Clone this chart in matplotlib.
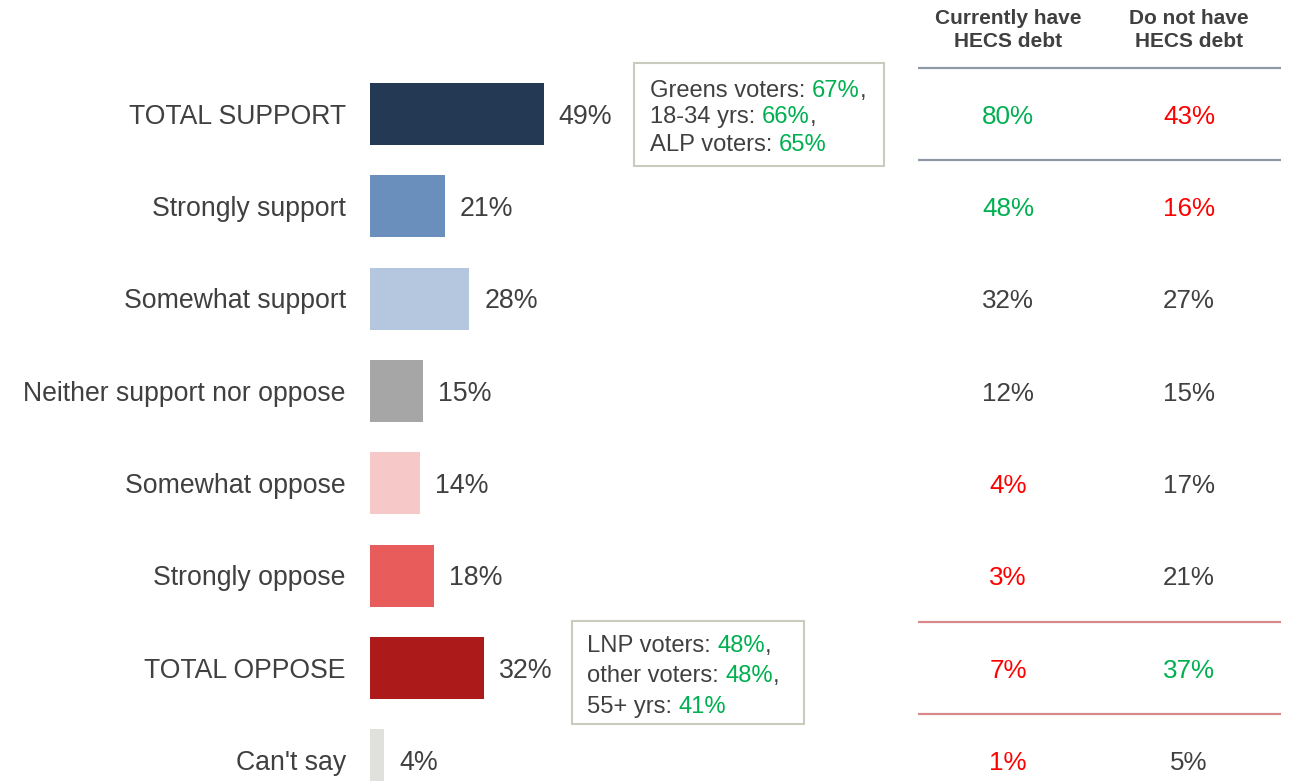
import matplotlib.pyplot as plt
import matplotlib.patches as mpatches
from matplotlib.transforms import offset_copy
import numpy as np

plt.rcParams["font.family"] = ["Liberation Sans", "DejaVu Sans"]

# --- Données ---
categories = [
    "TOTAL SUPPORT",
    "Strongly support",
    "Somewhat support",
    "Neither support nor oppose",
    "Somewhat oppose",
    "Strongly oppose",
    "TOTAL OPPOSE",
    "Can't say",
]
total_pct = [49, 21, 28, 15, 14, 18, 32, 4]

col_headers = ["Currently have\nHECS debt", "Do not have\nHECS debt"]
have_debt = [80, 48, 32, 12, 4, 3, 7, 1]
no_debt = [43, 16, 27, 15, 17, 21, 37, 5]
# "+" significativement plus haut, "-" plus bas, "" pas de différence
have_sig = ["+", "+", "", "", "-", "-", "-", "-"]
no_sig = ["-", "-", "", "", "", "", "+", ""]

support_groups = ["Greens voters", "18-34 yrs", "ALP voters"]
support_group_pct = [67, 66, 65]
oppose_groups = ["LNP voters", "other voters", "55+ yrs"]
oppose_group_pct = [48, 48, 41]

# --- Styles ---
bar_colors = ["#243a54", "#6a8fbd", "#b4c7df", "#a6a6a6",
              "#f6c8c8", "#e85c5c", "#ac1a1a", "#e0e0dc"]
TXT = "#404040"
GREEN = "#00b050"
RED = "#ff0000"
sig_color = {"+": GREEN, "-": RED, "": TXT}
DY = 0.03  # petit décalage vertical du texte vers le bas

fig = plt.figure(figsize=(12.96, 7.81), dpi=100)
ax = fig.add_axes([0, 0, 1, 1])
ax.axis("off")

# 1 % = 3.55 px, barre à 0 en x=370 px ; rangées espacées de 92.3 px
ax.set_xlim(-370 / 3.55, (1296 - 370) / 3.55)
ax.set_ylim((781 - 114) / 92.33, -114 / 92.33)

y = np.arange(len(categories))
ax.barh(y, total_pct, height=0.67, color=bar_colors, left=0)

for yi, cat, v in zip(y, categories, total_pct):
    ax.text(-6.8, yi + DY, cat, ha="right", va="center", fontsize=19.15, color=TXT)
    ax.text(v + 4.2, yi + DY, f"{v}%", ha="left", va="center", fontsize=19.3,
            color=TXT)

# --- Tableau HECS ---
col_x = [179.7, 230.7]
for cx, head in zip(col_x, col_headers):
    ax.text(cx, -0.91, head, ha="center", va="center", fontsize=15,
            fontweight="bold", color=TXT, linespacing=1.28)

for yi, a, b, sa, sb in zip(y, have_debt, no_debt, have_sig, no_sig):
    ax.text(col_x[0], yi + DY, f"{a}%", ha="center", va="center", fontsize=18.7,
            color=sig_color[sa])
    ax.text(col_x[1], yi + DY, f"{b}%", ha="center", va="center", fontsize=18.7,
            color=sig_color[sb])

x0, x1 = 154.4, 256.6
for yl in (-0.5, 0.5):
    ax.plot([x0, x1], [yl, yl], color="#8e98a6", lw=1.6, solid_capstyle="butt")
for yl in (5.5, 6.5):
    ax.plot([x0, x1], [yl, yl], color="#d88a8a", lw=1.6, solid_capstyle="butt")

# --- Encadrés de sous-groupes ---
renderer = fig.canvas.get_renderer()


def text_width(s, size):
    t = ax.text(0, 0, s, fontsize=size)
    w = t.get_window_extent(renderer).width
    t.remove()
    return w


def draw_group_line(x, yy, label, pct, last, size=17.1):
    prefix = f"{label}: "
    val = f"{pct}%"
    full = prefix + val
    ax.text(x, yy, prefix, ha="left", va="center", fontsize=size, color=TXT)
    dx = text_width(full, size) - text_width(val, size)
    ax.text(x, yy, val, ha="left", va="center", fontsize=size, color=GREEN,
            transform=offset_copy(ax.transData, fig=fig, x=dx, y=0, units="dots"))
    if not last:
        dc = text_width(full + ",", size) - text_width(",", size)
        ax.text(x, yy, ",", ha="left", va="center", fontsize=size, color=TXT,
                transform=offset_copy(ax.transData, fig=fig, x=dc, y=0, units="dots"))


def draw_box(bx0, bx1, by0, by1, tx, ty, groups, pcts):
    ax.add_patch(mpatches.Rectangle((bx0, by0), bx1 - bx0, by1 - by0,
                                    fill=False, edgecolor="#c9cbbd", lw=1.5))
    for i, (g, p) in enumerate(zip(groups, pcts)):
        draw_group_line(tx, ty[i] + 0.02, g, p, i == len(groups) - 1)


draw_box(74.4, 144.8, -0.552, 0.563, 78.9, [-0.27, 0.01, 0.32],
         support_groups, support_group_pct)
draw_box(56.9, 122.3, 5.49, 6.61, 61.1, [5.74, 6.07, 6.40],
         oppose_groups, oppose_group_pct)

fig.savefig("out.png", dpi=100)
